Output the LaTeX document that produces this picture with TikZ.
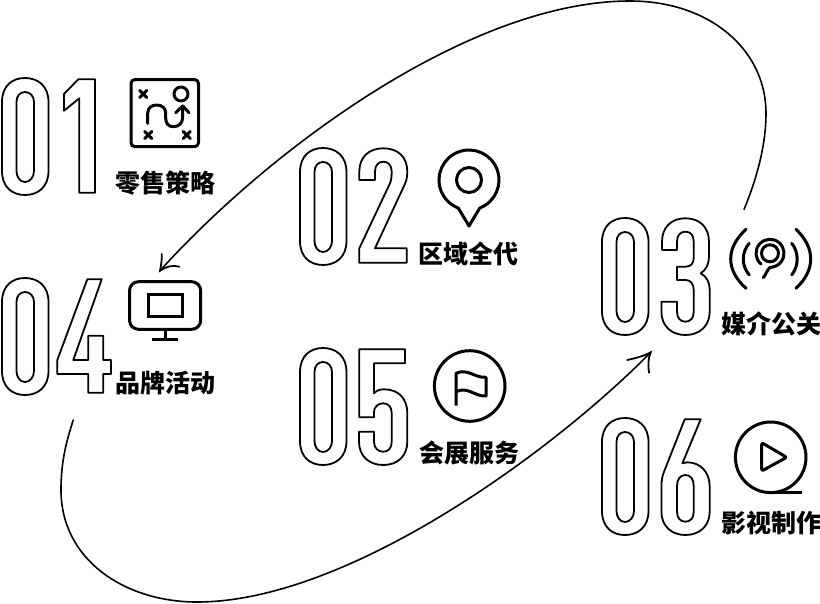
\documentclass[tikz,border=0pt]{standalone}
\usepackage{fontspec}
\newfontfamily\cjk{Noto Sans CJK SC}
\newcommand{\DigO}{(0,24) .. controls (0,8) and (10,0) .. (23,0) .. controls (36,0) and (46.5,8) .. (46.5,24) -- (46.5,93) .. controls (46.5,109) and (36,117) .. (23,117) .. controls (10,117) and (0,109) .. (0,93) -- cycle
 (14.5,24) .. controls (14.5,18) and (18,14) .. (23,14) .. controls (28,14) and (32,18) .. (32,24) -- (32,93) .. controls (32,99) and (28,104) .. (23,104) .. controls (18,104) and (14.5,99) .. (14.5,93) -- cycle}
\newcommand{\DigA}{(76.3,1.3) -- (93,1.3) -- (93,114.7) -- (77.3,114.7) -- (77.3,20.3) -- (62,32.7) -- (62,16) -- cycle}
\newcommand{\DigB}{(59.3,32) -- (59.3,23.7) .. controls (59.3,9) and (69,0.3) .. (83.3,0.3) .. controls (98,0.3) and (107.3,9) .. (107.3,23.7) .. controls (107.3,30) and (106,34) .. (104,38) -- (75,100.3) -- (106.7,100.3) -- (106.7,114.7) -- (59.3,114.7) -- (59.3,100.3) -- (90,35.3) .. controls (91,33) and (91.7,29) .. (91.7,23.7) .. controls (91.7,17) and (88,13.7) .. (83.3,13.7) .. controls (78.5,13.7) and (75,17) .. (75,23.7) -- (75,32) -- cycle}
\newcommand{\DigC}{(60,32) -- (60,23.7) .. controls (60,9) and (69.5,0.3) .. (83.4,0.3) .. controls (97.5,0.3) and (107,9) .. (107,23.7) -- (107,38.7) .. controls (107,46) and (104,52) .. (98.7,55.3) .. controls (104.5,58.5) and (107.7,64) .. (107.7,72) -- (107.7,93.7) .. controls (107.7,108) and (97.5,117) .. (83.4,117) .. controls (69.5,117) and (59.4,108) .. (59.4,93.7) -- (59.4,83.7) -- (75,83.7) -- (75,93.7) .. controls (75,100) and (78.5,103.7) .. (83.4,103.7) .. controls (88.5,103.7) and (91.7,100) .. (91.7,93.7) -- (91.7,72) .. controls (91.7,65.5) and (88.5,62) .. (83.4,62) -- (75,62) -- (75,48.7) -- (83.4,48.7) .. controls (88.5,48.7) and (91.7,45.5) .. (91.7,40.3) -- (91.7,23.7) .. controls (91.7,17) and (88.5,13.7) .. (83.4,13.7) .. controls (78.5,13.7) and (75,17) .. (75,23.7) -- (75,32) -- cycle}
\newcommand{\DigD}{(85.3,1.3) -- (99.7,1.3) -- (71.3,82) -- (86.3,82) -- (86.3,57.7) -- (101.3,57.7) -- (101.3,82) -- (109,82) -- (109,96) -- (101.3,96) -- (101.3,114.7) -- (86.3,114.7) -- (86.3,96) -- (55.3,96) -- (55.3,82) -- cycle}
\newcommand{\DigE}{(59.3,1.3) -- (105,1.3) -- (105,15.3) -- (74,15.3) -- (74,45.3) .. controls (76.5,42.5) and (80,41.3) .. (84,41.3) .. controls (98,41.3) and (107.3,50) .. (107.3,65.3) -- (107.3,93.7) .. controls (107.3,108) and (97.5,117) .. (83.3,117) .. controls (69,117) and (59,108) .. (59,93.7) -- (59,83.7) -- (74,83.7) -- (74,93.7) .. controls (74,100) and (78,103.7) .. (83.3,103.7) .. controls (88.5,103.7) and (91.7,100) .. (91.7,93.7) -- (91.7,65.3) .. controls (91.7,59) and (88.5,55.3) .. (83.3,55.3) .. controls (78,55.3) and (74,59) .. (74,64) -- (74,69.3) -- (59.3,69.3) -- cycle}
\newcommand{\DigF}{(82.7,1.3) -- (98.7,1.3) -- (80.4,45.3) .. controls (82,44.6) and (83.5,44.3) .. (85,44.3) .. controls (98.5,44.3) and (107.7,54) .. (107.7,68.7) -- (107.7,93.7) .. controls (107.7,108) and (97.5,117) .. (83.4,117) .. controls (69.5,117) and (59.4,108) .. (59.4,93.7) -- (59.4,68.7) .. controls (59.4,62) and (60.5,57) .. (62.7,52) -- cycle
 (75,68) .. controls (75,61) and (78.5,57) .. (83.4,57) .. controls (88.5,57) and (91.7,61) .. (91.7,68) -- (91.7,93.7) .. controls (91.7,100) and (88.5,103.7) .. (83.4,103.7) .. controls (78.5,103.7) and (75,100) .. (75,93.7) -- cycle}
\tikzset{
 x=1pt,y=-1pt,
 digit/.style={draw=black,line width=1.8pt,line join=round,fill=white},
 icon/.style={draw=black,line width=3pt,line join=round,line cap=round},
 link/.style={draw=black,line width=1.6pt,line cap=round},
 wing/.style={draw=black,line width=1.8pt,line cap=round},
 label/.style={font=\cjk\bfseries\fontsize{25}{26}\selectfont,inner sep=0pt,anchor=center,text=black},
}
\begin{document}
\begin{tikzpicture}
\useasboundingbox (0,0) rectangle (820,603);
% connectors
\coordinate (aStart) at (744,209.5);
\coordinate (aTip) at (160,270.7);
\coordinate (aW1) at (161.7,254);
\coordinate (aW2) at (179.3,266.7);
\coordinate (bStart) at (73.3,420);
\coordinate (bTip) at (650.7,352.3);
\coordinate (bW1) at (627.3,360);
\coordinate (bW2) at (649,372.7);
\draw[link] (aStart) .. controls (757,178) and (766,145) .. (766,113) .. controls (766,50) and (710,1) .. (630,1) .. controls (470,1) and (270,149) .. (aTip);
\draw[wing] (aW1) .. controls (162,260) and (161,266) .. (aTip) .. controls (167,266) and (173,265) .. (aW2);
\draw[link] (bStart) .. controls (65,445) and (61,465) .. (61,490) .. controls (61,560) and (125,602) .. (197,602) .. controls (350,602) and (558,447) .. (bTip);
\draw[wing] (bW1) .. controls (636,358) and (644,356) .. (bTip) .. controls (648,358) and (648,366) .. (bW2);
% digits
\begin{scope}[shift={(2,78)}]  \path[digit] \DigO; \path[digit] \DigA; \end{scope}
\begin{scope}[shift={(300,148)}] \path[digit] \DigO; \path[digit] \DigB; \end{scope}
\begin{scope}[shift={(602,218)}] \path[digit] \DigO; \path[digit] \DigC; \end{scope}
\begin{scope}[shift={(2,278)}] \path[digit] \DigO; \path[digit] \DigD; \end{scope}
\begin{scope}[shift={(300,348)}] \path[digit] \DigO; \path[digit] \DigE; \end{scope}
\begin{scope}[shift={(602,418)}] \path[digit] \DigO; \path[digit] \DigF; \end{scope}
% labels
\node[label] (t1) at (165,183) {零售策略};
\node[label] (t2) at (468.5,254) {区域全代};
\node[label] (t3) at (771,324) {媒介公关};
\node[label] (t4) at (165,383) {品牌活动};
\node[label] (t5) at (469,453) {会展服务};
\node[label] (t6) at (771,523) {影视制作};
% icon 1
\draw[icon,rounded corners=4pt] (131,79.5) rectangle (198.5,146.7);
\foreach \p in {(143.3,94),(148.3,135),(186.7,135)}{
  \draw[icon] \p ++(-3.6pt,-3.6pt) -- ++(7.2pt,7.2pt) \p ++(-3.6pt,3.6pt) -- ++(7.2pt,-7.2pt);
}
\draw[icon] (181,94) circle[radius=7pt];
\draw[icon] (147.7,123.3) -- (147.7,113.3) .. controls (147.7,108) and (151.5,105) .. (156.7,105) .. controls (162,105) and (165.7,108) .. (165.7,113.3) -- (165.7,118) .. controls (165.7,123.5) and (168.5,126.7) .. (173.3,126.7) .. controls (179,126.7) and (182.7,123) .. (182.7,116.7) -- (182.7,106);
\draw[icon] (175.7,112.7) -- (182.7,106) -- (189,112.7);
% icon 2
\draw[icon] (469,180) ++(-69:30pt) arc[start angle=-69,end angle=249,radius=30pt] -- (469,226) -- cycle;
\draw[icon] (469,180) circle[radius=12.5pt];
% icon 3
\draw[icon] (746,229.3) .. controls (725.6,248) and (725.6,270) .. (746,288.3);
\draw[icon] (749.3,243.3) .. controls (741.3,252) and (741.3,266) .. (749.3,275);
\draw[icon] (796,229.3) .. controls (815.6,248) and (815.6,270) .. (796,288.3);
\draw[icon] (791.7,243.3) .. controls (799,252) and (799,266) .. (791.7,275);
\draw[icon] (770,253.3) circle[radius=8.5pt];
\draw[icon] (770,253.3) ++(230:14pt) arc[start angle=230,end angle=-85,radius=14pt] -- (770,267.3) .. controls (767,270) and (766,274.5) .. (763.3,277.7);
% icon 4
\draw[icon,rounded corners=9pt] (129.5,281.7) rectangle (200.7,329.3);
\draw[icon,line cap=butt,line join=miter] (148.3,294) rectangle (182.3,316);
\draw[icon,line cap=butt] (165,329.3) -- (165,339.3);
\draw[icon,line cap=butt] (152.3,339.3) -- (177.7,339.3);
% icon 5
\draw[icon] (469.7,386) circle[radius=35.3pt];
\draw[icon,line cap=butt] (456,405.7) -- (456,373.3) .. controls (468,368) and (474,378) .. (486,377.3) -- (486,396) .. controls (474,396.5) and (468,386) .. (456,391.7);
% icon 6
\draw[icon] (770.7,457.3) circle[radius=35.3pt];
\draw[icon,line cap=butt] (770.7,492.6) -- (802.3,492.6);
\draw[icon,rounded corners=2pt] (761.7,442.7) -- (786.7,457.3) -- (761.7,471) -- cycle;
\end{tikzpicture}
\end{document}
